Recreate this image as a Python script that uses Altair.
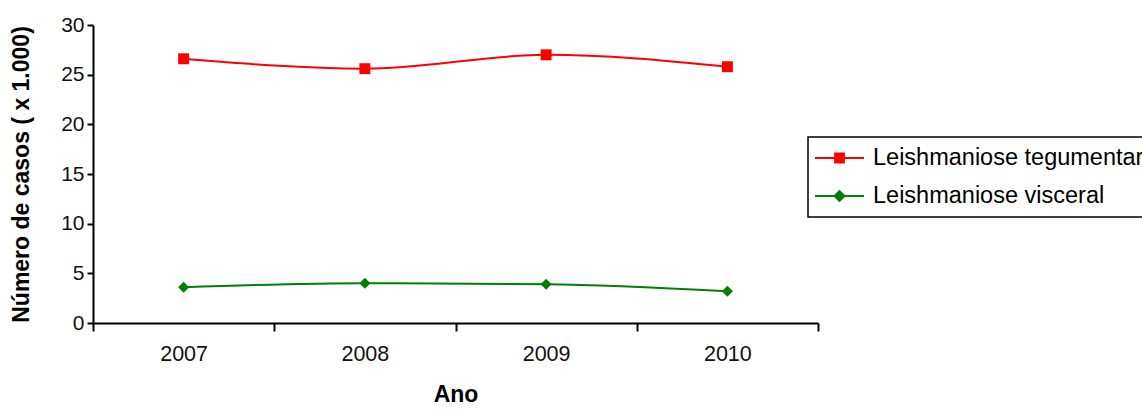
import altair as alt
import pandas as pd

years = ["2007", "2008", "2009", "2010"]
series_names = ["Leishmaniose tegumentar", "Leishmaniose visceral"]
tegumentar = [26.6, 25.6, 27.0, 25.8]
visceral = [3.6, 4.0, 3.9, 3.2]
y_ticks = [0, 5, 10, 15, 20, 25, 30]
colors = ["#FF0000", "#008000"]

rows = []
for y, v in zip(years, tegumentar):
    rows.append({"Ano": y, "valor": v, "serie": series_names[0]})
for y, v in zip(years, visceral):
    rows.append({"Ano": y, "valor": v, "serie": series_names[1]})
df = pd.DataFrame(rows)

FONT = "Liberation Sans"

x_enc = alt.X(
    "Ano:O",
    scale=alt.Scale(type="band", paddingInner=0, paddingOuter=0),
    axis=alt.Axis(
        title="Ano", tickBand="extent", labelAngle=0, tickSize=8,
        labelFontSize=21.5, labelPadding=12, labelColor="#111",
        titleFontSize=23, titleFontWeight="bold", titlePadding=19,
        titleColor="#000", domainColor="#000", tickColor="#000",
        domainWidth=2, tickWidth=2, grid=False, labelFont=FONT, titleFont=FONT,
    ),
)
y_enc = alt.Y(
    "valor:Q",
    scale=alt.Scale(domain=[0, 30], nice=False),
    axis=alt.Axis(
        title="Número de casos ( x 1.000)", values=y_ticks, tickSize=6,
        labelFontSize=21, labelPadding=3, labelColor="#111",
        titleFontSize=23, titleFontWeight="bold", titlePadding=27,
        titleColor="#000", domainColor="#000", tickColor="#000",
        domainWidth=2, tickWidth=2, grid=False, labelFont=FONT, titleFont=FONT,
    ),
)

color_scale = alt.Scale(domain=series_names, range=colors)

lines = alt.Chart(df).mark_line(interpolate="monotone", strokeWidth=2).encode(
    x=x_enc, y=y_enc,
    color=alt.Color("serie:N", scale=color_scale, legend=None),
    detail="serie:N",
)

points = alt.Chart(df).mark_point(filled=True, size=120, opacity=1).encode(
    x=x_enc, y=y_enc,
    color=alt.Color("serie:N", scale=color_scale, legend=None),
    shape=alt.Shape("serie:N", scale=alt.Scale(domain=series_names, range=["square", "diamond"]), legend=None),
)

legend_paths = [
    "M-1,0H-0.18M0.18,0H1M-0.18,-0.18H0.18V0.18H-0.18Z",
    "M-1,0H-0.2M0.2,0H1M0,-0.2L0.2,0L0,0.2L-0.2,0Z",
]

legend_layer = alt.Chart(df).transform_filter("false").mark_point(filled=True).encode(
    x=x_enc, y=y_enc,
    fill=alt.Fill("serie:N", scale=alt.Scale(domain=series_names, range=colors), title=None),
    stroke=alt.Stroke("serie:N", scale=alt.Scale(domain=series_names, range=colors), title=None),
    shape=alt.Shape("serie:N", scale=alt.Scale(domain=series_names, range=legend_paths), title=None),
)

chart = alt.layer(lines, points, legend_layer).resolve_scale(
    shape="independent", fill="independent", stroke="independent"
).properties(
    width=725, height=298,
    autosize=alt.AutoSizeParams(type="none"),
    padding={"left": 93, "top": 25, "right": 324, "bottom": 86},
    background="#ffffff",
).configure_view(stroke=None).configure_legend(
    orient="none", legendX=715, legendY=112,
    symbolSize=2401, symbolStrokeWidth=2, symbolOpacity=1,
    labelFontSize=23.5, labelFont=FONT, labelColor="#000", labelLimit=0,
    labelOffset=8, clipHeight=30, rowPadding=8,
    padding=6, strokeColor="#000", fillColor="#fff", strokeWidth=1.5,
)

chart.save("out.html", embed_options={"renderer": "svg", "actions": False})
